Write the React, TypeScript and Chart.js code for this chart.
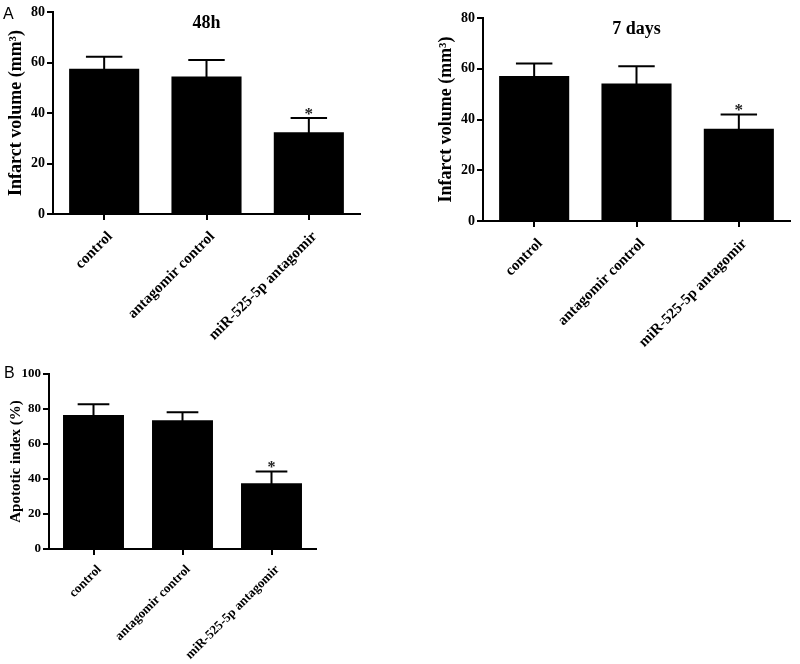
import React, { useEffect, useRef } from "react";
import { Chart, registerables } from "chart.js";

Chart.register(...registerables);

// ---- Data ----
const categories = ["control", "antagomir control", "miR-525-5p antagomir"];
const infarct48hMeans = [57.5, 54.5, 32.4];
const infarct48hErrors = [4.8, 6.5, 5.6];
const infarct7dMeans = [57.1, 54.2, 36.4];
const infarct7dErrors = [5.0, 6.8, 5.6];
const apoptoticMeans = [76.6, 73.6, 37.6];
const apoptoticErrors = [6.1, 4.5, 6.7];
const significant = [false, false, true];
const infarctTicks = [0, 20, 40, 60, 80];
const apoptoticTicks = [0, 20, 40, 60, 80, 100];

const SERIF = "'Liberation Serif', 'Times New Roman', serif";

const errorBarPlugin = {
  id: "errorBars",
  afterDatasetsDraw(chart: any, _args: any, opts: any) {
    const { ctx, chartArea } = chart;
    const meta = chart.getDatasetMeta(0);
    const yScale = chart.scales.y;
    const data = chart.data.datasets[0].data as number[];
    ctx.save();
    ctx.strokeStyle = "#000";
    ctx.lineWidth = 2;
    meta.data.forEach((el: any, i: number) => {
      const x = el.x;
      const top = el.y;
      const capY = yScale.getPixelForValue(data[i] + opts.errors[i]);
      const half = el.width * 0.26;
      ctx.beginPath();
      ctx.moveTo(x, top + 1);
      ctx.lineTo(x, capY);
      ctx.moveTo(x - half, capY);
      ctx.lineTo(x + half, capY);
      ctx.stroke();
      if (opts.stars[i]) {
        ctx.fillStyle = "#222";
        ctx.font = `bold ${opts.starSize}px ${SERIF}`;
        ctx.textAlign = "center";
        ctx.textBaseline = "alphabetic";
        ctx.fillText("*", x, capY + opts.starOffset);
      }
    });
    if (opts.title) {
      ctx.fillStyle = "#000";
      ctx.font = `bold ${opts.titleSize}px ${SERIF}`;
      ctx.textAlign = "center";
      ctx.textBaseline = "alphabetic";
      ctx.fillText(opts.title, (chartArea.left + chartArea.right) / 2, chartArea.top + 16);
    }
    ctx.restore();
  },
};

type PanelProps = {
  left: number;
  top: number;
  width: number;
  height: number;
  means: number[];
  errors: number[];
  ticks: number[];
  yTitle: string;
  title?: string;
  padTop: number;
  padRight: number;
  yWidth: number;
  xHeight: number;
  tickFont: number;
  xFont: number;
  yTitleFont: number;
  yTitlePad: number;
  xPad: number;
  xShift: number;
  starSize: number;
};

function Panel(p: PanelProps) {
  const ref = useRef<HTMLCanvasElement | null>(null);
  useEffect(() => {
    if (!ref.current) return;
    const chart = new Chart(ref.current, {
      type: "bar",
      data: {
        labels: categories,
        datasets: [
          {
            data: p.means,
            backgroundColor: "#000",
            borderWidth: 0,
            barPercentage: 0.685,
            categoryPercentage: 1,
          },
        ],
      },
      options: {
        responsive: false,
        animation: false,
        devicePixelRatio: 1,
        layout: { padding: { top: p.padTop, right: p.padRight, left: 0, bottom: 0 } },
        plugins: {
          legend: { display: false },
          tooltip: { enabled: false },
          title: { display: false },
          errorBars: {
            errors: p.errors,
            stars: significant,
            starSize: p.starSize,
            starOffset: 1,
            title: p.title,
            titleSize: 18,
          },
        } as any,
        scales: {
          x: {
            offset: true,
            grid: {
              offset: false,
              drawOnChartArea: false,
              drawTicks: true,
              tickLength: 6,
              tickColor: "#000",
              lineWidth: 2,
            },
            border: { color: "#000", width: 2 },
            ticks: {
              color: "#000",
              maxRotation: 45,
              minRotation: 45,
              autoSkip: false,
              padding: p.xPad,
              labelOffset: p.xShift,
              font: { family: SERIF, size: p.xFont, weight: "bold" },
            },
            afterFit: (scale: any) => {
              scale.height = p.xHeight;
            },
          },
          y: {
            min: p.ticks[0],
            max: p.ticks[p.ticks.length - 1],
            grid: {
              drawOnChartArea: false,
              drawTicks: true,
              tickLength: 6,
              tickColor: "#000",
              lineWidth: 2,
            },
            border: { color: "#000", width: 2 },
            ticks: {
              color: "#000",
              padding: 2,
              font: { family: SERIF, size: p.tickFont, weight: "bold" },
            },
            afterBuildTicks: (scale: any) => {
              scale.ticks = p.ticks.map((v) => ({ value: v }));
            },
            afterFit: (scale: any) => {
              scale.width = p.yWidth;
            },
            title: {
              display: true,
              text: p.yTitle,
              color: "#000",
              padding: { top: p.yTitlePad, bottom: 0 },
              font: { family: SERIF, size: p.yTitleFont, weight: "bold" },
            },
          },
        },
      } as any,
      plugins: [errorBarPlugin as any],
    });
    return () => chart.destroy();
  }, []);
  return (
    <canvas
      ref={ref}
      width={p.width}
      height={p.height}
      style={{ position: "absolute", left: p.left, top: p.top, width: p.width, height: p.height }}
    />
  );
}

const letterStyle: React.CSSProperties = {
  position: "absolute",
  fontFamily: "'Liberation Sans', Arial, sans-serif",
  fontSize: 16,
  lineHeight: "16px",
  color: "#000",
};

export default function App() {
  return (
    <div style={{ position: "absolute", left: 0, top: 0, width: 800, height: 664, background: "#fff" }}>
      <Panel
        left={0}
        top={0}
        width={380}
        height={355}
        means={infarct48hMeans}
        errors={infarct48hErrors}
        ticks={infarctTicks}
        yTitle="Infarct volume (mm³)"
        title="48h"
        padTop={12}
        padRight={20}
        yWidth={53}
        xHeight={141}
        tickFont={14}
        xFont={15}
        yTitleFont={18}
        yTitlePad={6}
        xPad={8}
        xShift={6}
        starSize={17}
      />
      <Panel
        left={420}
        top={0}
        width={380}
        height={355}
        means={infarct7dMeans}
        errors={infarct7dErrors}
        ticks={infarctTicks}
        yTitle="Infarct volume (mm³)"
        title="7 days"
        padTop={18}
        padRight={10}
        yWidth={63}
        xHeight={134}
        tickFont={14}
        xFont={15}
        yTitleFont={18}
        yTitlePad={16}
        xPad={8}
        xShift={6}
        starSize={17}
      />
      <Panel
        left={0}
        top={360}
        width={340}
        height={304}
        means={apoptoticMeans}
        errors={apoptoticErrors}
        ticks={apoptoticTicks}
        yTitle="Apototic index (%)"
        padTop={14}
        padRight={24}
        yWidth={49}
        xHeight={115}
        tickFont={13}
        xFont={13}
        yTitleFont={15}
        yTitlePad={7}
        xPad={7}
        xShift={6}
        starSize={16}
      />
      <div style={{ ...letterStyle, left: 3, top: 6 }}>A</div>
      <div style={{ ...letterStyle, left: 4, top: 365 }}>B</div>
    </div>
  );
}
